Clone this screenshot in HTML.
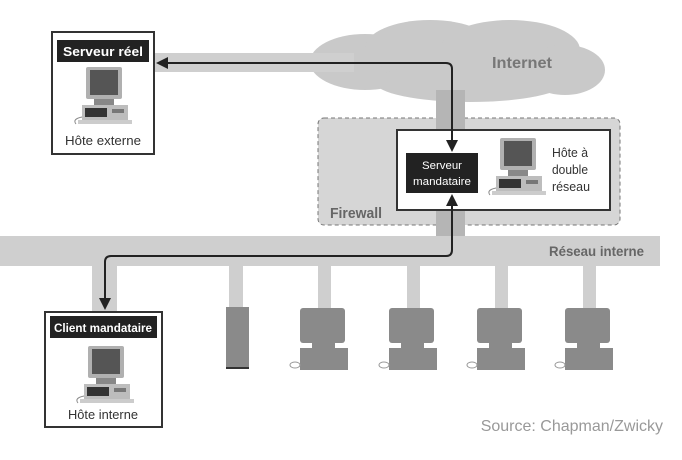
<!DOCTYPE html>
<html><head><meta charset="utf-8"><style>
body{margin:0;background:#fff;}
svg{display:block;font-family:"Liberation Sans",sans-serif;}
</style></head><body>
<svg width="682" height="460" viewBox="0 0 682 460">
<defs>
<g id="pc">
  <rect x="0" y="0" width="36" height="32" rx="2" fill="#b0b0b0"/>
  <rect x="4" y="3" width="28" height="25" fill="#555"/>
  <rect x="8" y="32" width="20" height="6" fill="#888"/>
  <rect x="-4" y="38" width="46" height="16" fill="#bdbdbd"/>
  <rect x="-1" y="41" width="22" height="9" fill="#333"/>
  <rect x="26" y="42" width="12" height="4" fill="#777"/>
  <rect x="-8" y="53" width="54" height="4" fill="#ccc"/>
  <path d="M-4 50 q-10 2 -6 7" stroke="#888" fill="none"/>
</g>
<g id="term">
  <rect x="0" y="0" width="45" height="35" rx="3" fill="#8a8a8a"/>
  <rect x="12" y="35" width="23" height="6" fill="#8a8a8a"/>
  <rect x="0" y="40" width="48" height="22" fill="#8a8a8a"/>
  <ellipse cx="-5" cy="57" rx="5" ry="3" fill="none" stroke="#999"/>
</g>
</defs>
<!-- cloud -->
<g fill="#c9c9c9">
  <ellipse cx="365" cy="62" rx="55" ry="28"/>
  <ellipse cx="430" cy="48" rx="65" ry="28"/>
  <ellipse cx="510" cy="50" rx="70" ry="30"/>
  <ellipse cx="565" cy="70" rx="40" ry="25"/>
  <ellipse cx="470" cy="82" rx="95" ry="20"/>
</g>
<text x="492" y="68" font-size="16" font-weight="bold" fill="#777" textLength="60" lengthAdjust="spacingAndGlyphs">Internet</text>
<!-- top band -->
<rect x="154" y="53" width="200" height="19" fill="#cfcfcf"/>
<!-- firewall -->
<rect x="318" y="118" width="302" height="107" rx="6" fill="#d6d6d6" stroke="#777" stroke-dasharray="4,3"/>
<text x="330" y="218" font-size="15" font-weight="bold" fill="#666" textLength="52" lengthAdjust="spacingAndGlyphs">Firewall</text>
<!-- vertical band -->
<rect x="436" y="90" width="29" height="148" fill="#b5b5b5"/>
<!-- internal band -->
<rect x="0" y="236" width="660" height="30" fill="#cfcfcf"/>
<text x="644" y="256" font-size="14" font-weight="bold" fill="#666" text-anchor="end" textLength="95" lengthAdjust="spacingAndGlyphs">Réseau interne</text>
<!-- drops -->
<g fill="#cfcfcf">
<rect x="92" y="265" width="25" height="48"/>
<rect x="229" y="265" width="14" height="43"/>
<rect x="318" y="265" width="13" height="44"/>
<rect x="407" y="265" width="13" height="44"/>
<rect x="495" y="265" width="13" height="44"/>
<rect x="583" y="265" width="13" height="44"/>
</g>
<rect x="226" y="307" width="23" height="62" fill="#8a8a8a"/>
<rect x="226" y="367" width="23" height="2" fill="#333"/>
<use href="#term" x="300" y="308"/>
<use href="#term" x="389" y="308"/>
<use href="#term" x="477" y="308"/>
<use href="#term" x="565" y="308"/>
<!-- dual host -->
<rect x="397" y="130" width="213" height="80" fill="#fff" stroke="#333" stroke-width="2"/>
<rect x="406" y="153" width="72" height="40" fill="#222"/>
<text x="442" y="169" font-size="11" fill="#fff" text-anchor="middle" textLength="40" lengthAdjust="spacingAndGlyphs">Serveur</text>
<text x="442" y="185" font-size="11" fill="#fff" text-anchor="middle" textLength="58" lengthAdjust="spacingAndGlyphs">mandataire</text>
<use href="#pc" x="500" y="138"/>
<text x="552" y="157" font-size="13" fill="#333" textLength="36" lengthAdjust="spacingAndGlyphs">Hôte à</text>
<text x="552" y="174" font-size="13" fill="#333" textLength="36" lengthAdjust="spacingAndGlyphs">double</text>
<text x="552" y="191" font-size="13" fill="#333" textLength="38" lengthAdjust="spacingAndGlyphs">réseau</text>
<!-- external host -->
<rect x="52" y="32" width="102" height="122" fill="#fff" stroke="#333" stroke-width="2"/>
<rect x="57" y="40" width="92" height="22" fill="#222"/>
<text x="103" y="56" font-size="13" font-weight="bold" fill="#fff" text-anchor="middle" textLength="80" lengthAdjust="spacingAndGlyphs">Serveur réel</text>
<use href="#pc" x="86" y="67"/>
<text x="103" y="145" font-size="13" fill="#333" text-anchor="middle" textLength="76" lengthAdjust="spacingAndGlyphs">Hôte externe</text>
<!-- internal host -->
<rect x="45" y="312" width="117" height="115" fill="#fff" stroke="#333" stroke-width="2"/>
<rect x="50" y="316" width="107" height="22" fill="#222"/>
<text x="103" y="332" font-size="12" font-weight="bold" fill="#fff" text-anchor="middle" textLength="98" lengthAdjust="spacingAndGlyphs">Client mandataire</text>
<use href="#pc" x="88" y="346"/>
<text x="103" y="419" font-size="13" fill="#333" text-anchor="middle" textLength="70" lengthAdjust="spacingAndGlyphs">Hôte interne</text>
<!-- arrows -->
<g stroke="#222" stroke-width="2" fill="none">
<path d="M166 63 H446 q6 0 6 6 V142"/>
<path d="M452 205 V250 q0 6 -6 6 H111 q-6 0 -6 6 V300"/>
</g>
<g fill="#222">
<polygon points="156,63 168,57 168,69"/>
<polygon points="446,140 458,140 452,152"/>
<polygon points="446,206 458,206 452,194"/>
<polygon points="99,298 111,298 105,310"/>
</g>
<text x="663" y="431" font-size="16" fill="#999" text-anchor="end">Source: Chapman/Zwicky</text>
</svg>
</body></html>
